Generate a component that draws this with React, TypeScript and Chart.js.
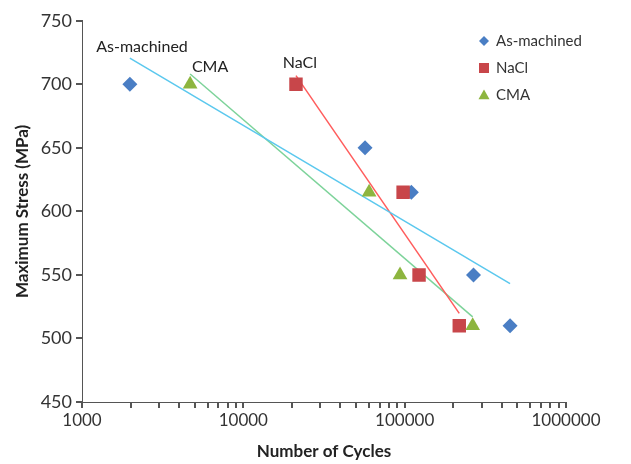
import React, { useEffect, useRef } from "react";
import { Chart, registerables } from "chart.js";

Chart.register(...registerables);

// Data
const asMachinedX = [1980, 56800, 110000, 267000, 450000];
const asMachinedY = [700, 650, 615, 550, 510];
const naclX = [21200, 97800, 122800, 218000];
const naclY = [700, 615, 550, 510];
const cmaX = [4680, 60200, 93600, 264000];
const cmaY = [700, 615, 550, 510];

// Trendline endpoints (logarithmic trendlines, straight on log axis)
const asTrendX = [1980, 450000];
const asTrendY = [720.7, 543.2];
const naclTrendX = [21200, 218000];
const naclTrendY = [706.8, 519.7];
const cmaTrendX = [4680, 264000];
const cmaTrendY = [708.1, 517];

// In-plot labels
const labelTexts = ["As-machined", "CMA", "NaCl"];
const labelX = [2355, 6220, 22400];
const labelY = [729.6, 713.9, 717];

const legendNames = ["As-machined", "NaCl", "CMA"];

// Axis ticks
const xDecades = [1000, 10000, 100000, 1000000];
const xMinorMultipliers = [1, 2, 3, 4, 5, 6, 7, 8, 9];

const BLUE = "#4A7EC4";
const RED = "#C8464A";
const GREEN = "#8DB53F";
const AXIS = "#555555";
const FONT = "Lato, 'Open Sans', sans-serif";

const pts = (xs: number[], ys: number[]) => xs.map((x, i) => ({ x, y: ys[i] }));

function drawMarker(ctx: CanvasRenderingContext2D, style: string, x: number, y: number, r: number, color: string) {
  ctx.fillStyle = color;
  ctx.beginPath();
  if (style === "diamond") {
    ctx.moveTo(x, y - r);
    ctx.lineTo(x + r, y);
    ctx.lineTo(x, y + r);
    ctx.lineTo(x - r, y);
  } else if (style === "square") {
    ctx.rect(x - r, y - r, 2 * r, 2 * r);
  } else {
    ctx.moveTo(x, y - r);
    ctx.lineTo(x + r, y + r * 0.75);
    ctx.lineTo(x - r, y + r * 0.75);
  }
  ctx.closePath();
  ctx.fill();
}

export default function App() {
  const ref = useRef<HTMLCanvasElement | null>(null);

  useEffect(() => {
    if (!ref.current) return;

    const labelsPlugin = {
      id: "labelsPlugin",
      afterDatasetsDraw(chart: any) {
        const { ctx, scales } = chart;
        ctx.save();
        ctx.font = `16px ${FONT}`;
        ctx.fillStyle = "#222";
        ctx.textAlign = "center";
        ctx.textBaseline = "middle";
        labelTexts.forEach((t, i) => {
          ctx.fillText(t, scales.x.getPixelForValue(labelX[i]), scales.y.getPixelForValue(labelY[i]));
        });
        ctx.restore();
      },
    };

    const axisTickPlugin = {
      id: "axisTicks",
      afterDraw(chart: any) {
        const { ctx, scales, chartArea } = chart;
        const xs = scales.x;
        const ys = scales.y;
        ctx.save();
        ctx.fillStyle = AXIS;
        const bottom = Math.round(chartArea.bottom);
        const left = Math.round(chartArea.left);
        xDecades.forEach((d, di) => {
          xMinorMultipliers.forEach((m) => {
            if (di === xDecades.length - 1 && m > 1) return;
            const px = Math.round(xs.getPixelForValue(d * m));
            ctx.fillRect(px - 1, bottom, 2, 6);
          });
        });
        ys.ticks.forEach((t: any) => {
          const py = Math.round(ys.getPixelForValue(t.value));
          ctx.fillRect(left - 6, py - 1, 6, 2);
        });
        ctx.restore();
      },
    };

    const legendPlugin = {
      id: "customLegend",
      afterDraw(chart: any) {
        const { ctx } = chart;
        const styles = [
          { color: BLUE, style: "diamond", r: 5 },
          { color: RED, style: "square", r: 5 },
          { color: GREEN, style: "triangle", r: 5.5 },
        ];
        ctx.save();
        ctx.font = `15px ${FONT}`;
        ctx.textAlign = "left";
        ctx.textBaseline = "middle";
        legendNames.forEach((n, i) => {
          const y = 41 + i * 27;
          const s = styles[i];
          drawMarker(ctx, s.style, 484, y, s.r, s.color);
          ctx.fillStyle = "#333";
          ctx.fillText(n, 496, y);
        });
        ctx.restore();
      },
    };

    const chart = new Chart(ref.current, {
      type: "scatter",
      data: {
        datasets: [
          {
            label: "CMA",
            data: pts(cmaX, cmaY),
            pointStyle: "triangle",
            pointRadius: 8.5,
            backgroundColor: GREEN,
            borderColor: GREEN,
            borderWidth: 0,
          },
          {
            label: "NaCl",
            data: pts(naclX, naclY),
            pointStyle: "rect",
            pointRadius: 9.5,
            backgroundColor: RED,
            borderColor: RED,
            borderWidth: 0,
          },
          {
            label: "As-machined",
            data: pts(asMachinedX, asMachinedY),
            pointStyle: "rectRot",
            pointRadius: 7.5,
            backgroundColor: BLUE,
            borderColor: BLUE,
            borderWidth: 0,
          },
          {
            label: "trend-as",
            data: pts(asTrendX, asTrendY),
            showLine: true,
            pointRadius: 0,
            borderColor: "#5BC8EE",
            borderWidth: 1.5,
          },
          {
            label: "trend-nacl",
            data: pts(naclTrendX, naclTrendY),
            showLine: true,
            pointRadius: 0,
            borderColor: "#FF5C5C",
            borderWidth: 1.5,
          },
          {
            label: "trend-cma",
            data: pts(cmaTrendX, cmaTrendY),
            showLine: true,
            pointRadius: 0,
            borderColor: "#7DD39A",
            borderWidth: 1.5,
          },
        ] as any,
      },
      options: {
        animation: false,
        responsive: true,
        maintainAspectRatio: false,
        layout: { padding: { top: 20, right: 65, left: 0, bottom: 0 } },
        plugins: {
          legend: { display: false },
          tooltip: { enabled: false },
        },
        scales: {
          x: {
            type: "logarithmic",
            min: 1000,
            max: 1000000,
            afterBuildTicks: (s: any) => {
              s.ticks = xDecades.map((d) => ({ value: d, major: true }));
            },
            afterFit: (s: any) => {
              s.height = 62;
            },
            border: { display: true, color: AXIS, width: 1 },
            grid: { display: false, drawOnChartArea: false, drawTicks: false },
            ticks: {
              autoSkip: false,
              maxRotation: 0,
              padding: 8,
              color: "#333",
              font: { family: FONT, size: 17 },
              callback: (v: any) => String(Number(v)),
            },
            title: {
              display: true,
              text: "Number of Cycles",
              color: "#222",
              font: { family: FONT, size: 17, weight: "bold" },
              padding: { top: 0, bottom: 2 },
            },
          },
          y: {
            min: 450,
            max: 750,
            afterFit: (s: any) => {
              s.width = 82;
            },
            border: { display: true, color: AXIS, width: 1 },
            grid: { display: false, drawOnChartArea: false, drawTicks: false },
            ticks: {
              stepSize: 50,
              padding: 10,
              color: "#333",
              font: { family: FONT, size: 18 },
            },
            title: {
              display: true,
              text: "Maximum Stress (MPa)",
              color: "#222",
              font: { family: FONT, size: 17, weight: "bold" },
              padding: { top: 12, bottom: 0 },
            },
          },
        },
      } as any,
      plugins: [labelsPlugin, axisTickPlugin, legendPlugin],
    });

    return () => chart.destroy();
  }, []);

  return (
    <div style={{ position: "fixed", left: 0, top: 0, width: 631, height: 464, background: "#fff" }}>
      <canvas ref={ref} />
    </div>
  );
}
